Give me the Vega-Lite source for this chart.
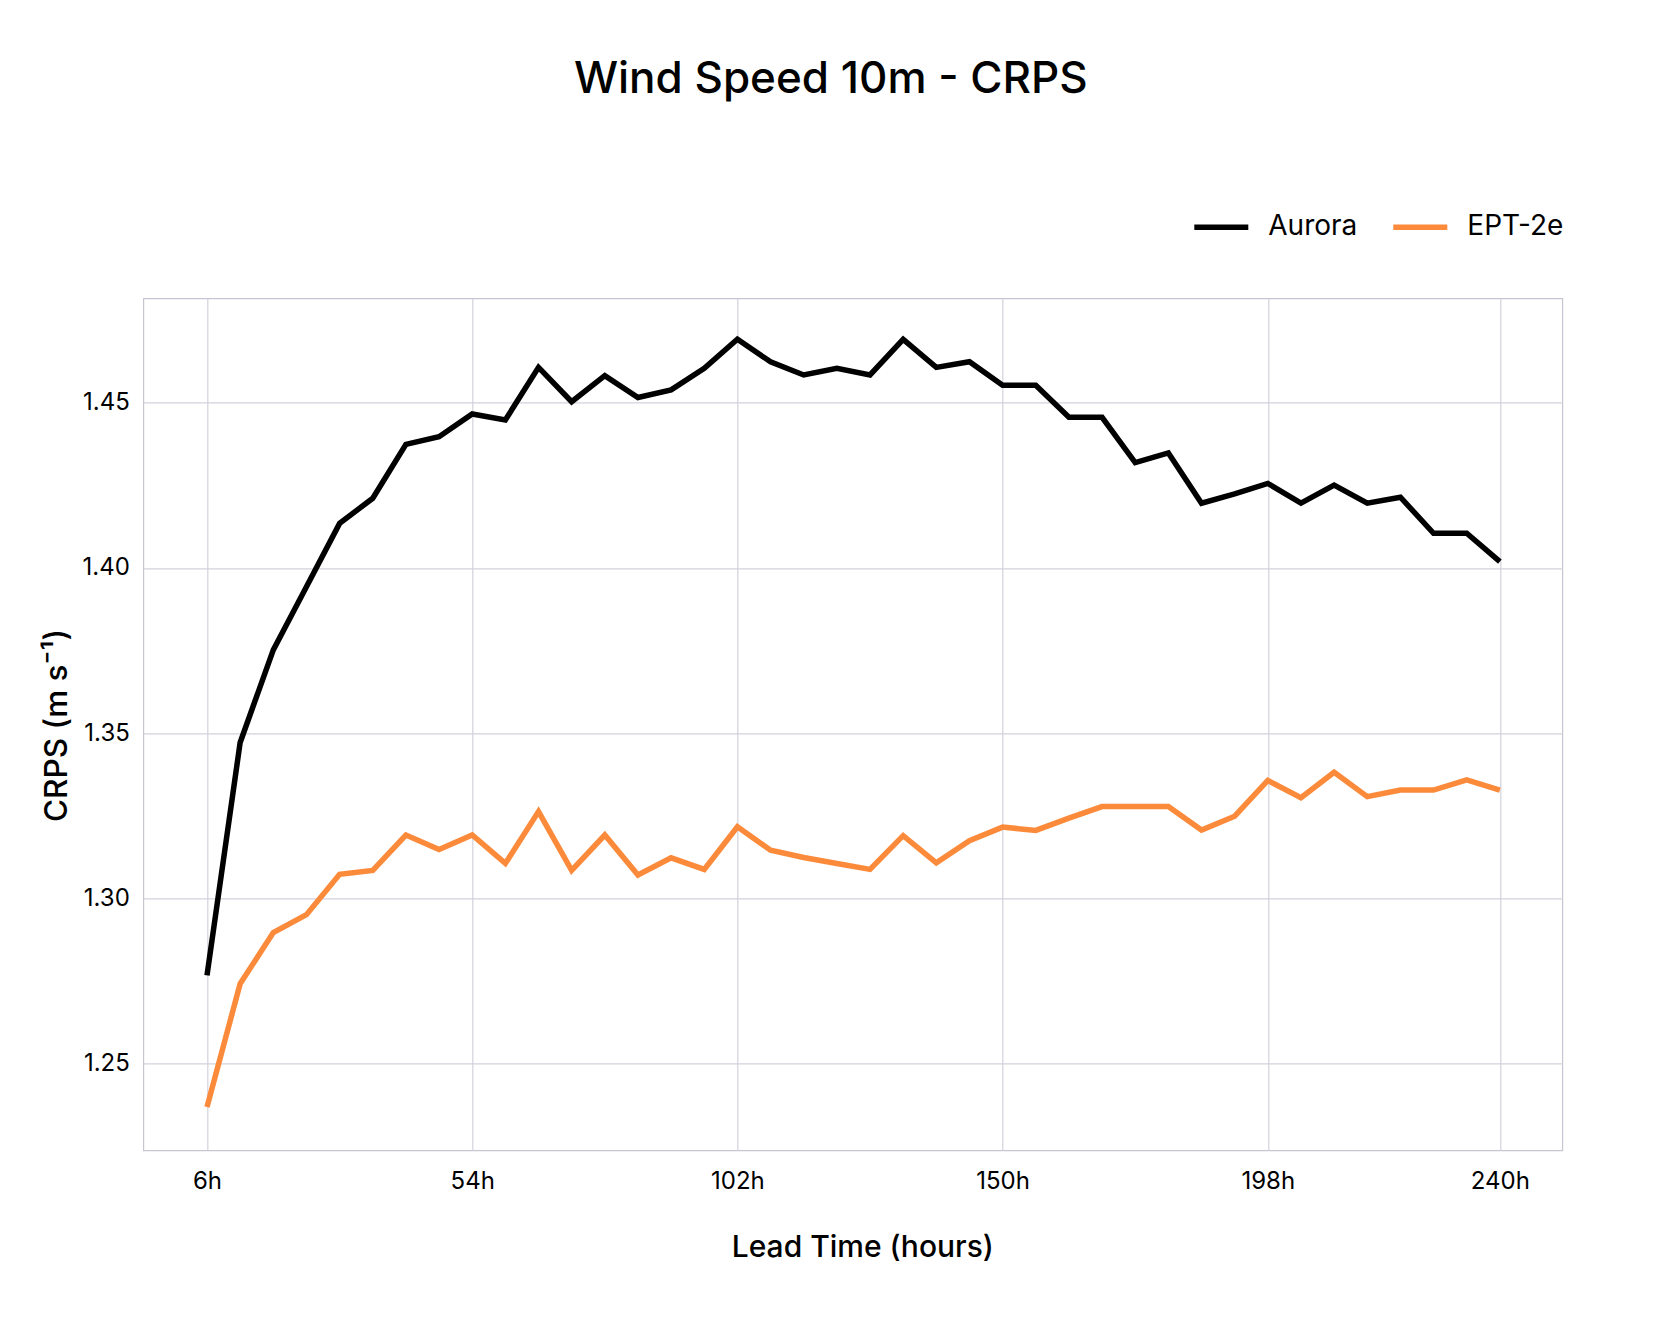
{
  "$schema": "https://vega.github.io/schema/vega-lite/v6.json",
  "autosize": {"type": "none"},
  "width": 1419,
  "height": 852,
  "padding": {"left": 143.3, "top": 298.3, "right": 98.7, "bottom": 178.7},
  "background": "white",
  "config": {
    "font": "Inter",
    "view": {"stroke": "#c6c6d2", "strokeWidth": 1.2}
  },
  "title": {
    "text": "Wind Speed 10m - CRPS",
    "fontSize": 44,
    "fontWeight": 500,
    "color": "#000000",
    "anchor": "middle",
    "baseline": "alphabetic",
    "dx": -22,
    "offset": 60
  },
  "data": {
    "values": [
      {"h": 6, "model": "Aurora", "crps": 1.2767},
      {"h": 12, "model": "Aurora", "crps": 1.3472},
      {"h": 18, "model": "Aurora", "crps": 1.3752},
      {"h": 24, "model": "Aurora", "crps": 1.3943},
      {"h": 30, "model": "Aurora", "crps": 1.4135},
      {"h": 36, "model": "Aurora", "crps": 1.4211},
      {"h": 42, "model": "Aurora", "crps": 1.4374},
      {"h": 48, "model": "Aurora", "crps": 1.4397},
      {"h": 54, "model": "Aurora", "crps": 1.4466},
      {"h": 60, "model": "Aurora", "crps": 1.4448},
      {"h": 66, "model": "Aurora", "crps": 1.4607},
      {"h": 72, "model": "Aurora", "crps": 1.4503},
      {"h": 78, "model": "Aurora", "crps": 1.4582},
      {"h": 84, "model": "Aurora", "crps": 1.4516},
      {"h": 90, "model": "Aurora", "crps": 1.4539},
      {"h": 96, "model": "Aurora", "crps": 1.4604},
      {"h": 102, "model": "Aurora", "crps": 1.4692},
      {"h": 108, "model": "Aurora", "crps": 1.4624},
      {"h": 114, "model": "Aurora", "crps": 1.4584},
      {"h": 120, "model": "Aurora", "crps": 1.4604},
      {"h": 126, "model": "Aurora", "crps": 1.4584},
      {"h": 132, "model": "Aurora", "crps": 1.4692},
      {"h": 138, "model": "Aurora", "crps": 1.4607},
      {"h": 144, "model": "Aurora", "crps": 1.4624},
      {"h": 150, "model": "Aurora", "crps": 1.4553},
      {"h": 156, "model": "Aurora", "crps": 1.4553},
      {"h": 162, "model": "Aurora", "crps": 1.4456},
      {"h": 168, "model": "Aurora", "crps": 1.4456},
      {"h": 174, "model": "Aurora", "crps": 1.4319},
      {"h": 180, "model": "Aurora", "crps": 1.4348},
      {"h": 186, "model": "Aurora", "crps": 1.4196},
      {"h": 192, "model": "Aurora", "crps": 1.4224},
      {"h": 198, "model": "Aurora", "crps": 1.4256},
      {"h": 204, "model": "Aurora", "crps": 1.4196},
      {"h": 210, "model": "Aurora", "crps": 1.4251},
      {"h": 216, "model": "Aurora", "crps": 1.4196},
      {"h": 222, "model": "Aurora", "crps": 1.4214},
      {"h": 228, "model": "Aurora", "crps": 1.4105},
      {"h": 234, "model": "Aurora", "crps": 1.4105},
      {"h": 240, "model": "Aurora", "crps": 1.4019},
      {"h": 6, "model": "EPT-2e", "crps": 1.2369},
      {"h": 12, "model": "EPT-2e", "crps": 1.2742},
      {"h": 18, "model": "EPT-2e", "crps": 1.2897},
      {"h": 24, "model": "EPT-2e", "crps": 1.2951},
      {"h": 30, "model": "EPT-2e", "crps": 1.3073},
      {"h": 36, "model": "EPT-2e", "crps": 1.3085},
      {"h": 42, "model": "EPT-2e", "crps": 1.3192},
      {"h": 48, "model": "EPT-2e", "crps": 1.3148},
      {"h": 54, "model": "EPT-2e", "crps": 1.3192},
      {"h": 60, "model": "EPT-2e", "crps": 1.3106},
      {"h": 66, "model": "EPT-2e", "crps": 1.3263},
      {"h": 72, "model": "EPT-2e", "crps": 1.3085},
      {"h": 78, "model": "EPT-2e", "crps": 1.3192},
      {"h": 84, "model": "EPT-2e", "crps": 1.3071},
      {"h": 90, "model": "EPT-2e", "crps": 1.3123},
      {"h": 96, "model": "EPT-2e", "crps": 1.3088},
      {"h": 102, "model": "EPT-2e", "crps": 1.3217},
      {"h": 108, "model": "EPT-2e", "crps": 1.3146},
      {"h": 114, "model": "EPT-2e", "crps": 1.3124},
      {"h": 120, "model": "EPT-2e", "crps": 1.3106},
      {"h": 126, "model": "EPT-2e", "crps": 1.3088},
      {"h": 132, "model": "EPT-2e", "crps": 1.3190},
      {"h": 138, "model": "EPT-2e", "crps": 1.3108},
      {"h": 144, "model": "EPT-2e", "crps": 1.3175},
      {"h": 150, "model": "EPT-2e", "crps": 1.3216},
      {"h": 156, "model": "EPT-2e", "crps": 1.3206},
      {"h": 162, "model": "EPT-2e", "crps": 1.3243},
      {"h": 168, "model": "EPT-2e", "crps": 1.3278},
      {"h": 174, "model": "EPT-2e", "crps": 1.3278},
      {"h": 180, "model": "EPT-2e", "crps": 1.3278},
      {"h": 186, "model": "EPT-2e", "crps": 1.3207},
      {"h": 192, "model": "EPT-2e", "crps": 1.3249},
      {"h": 198, "model": "EPT-2e", "crps": 1.3357},
      {"h": 204, "model": "EPT-2e", "crps": 1.3305},
      {"h": 210, "model": "EPT-2e", "crps": 1.3382},
      {"h": 216, "model": "EPT-2e", "crps": 1.3308},
      {"h": 222, "model": "EPT-2e", "crps": 1.3328},
      {"h": 228, "model": "EPT-2e", "crps": 1.3328},
      {"h": 234, "model": "EPT-2e", "crps": 1.3359},
      {"h": 240, "model": "EPT-2e", "crps": 1.3328}
    ]
  },
  "mark": {"type": "line", "strokeWidth": 5.5, "strokeJoin": "miter", "strokeCap": "butt"},
  "encoding": {
    "x": {
      "field": "h",
      "type": "quantitative",
      "scale": {"domain": [-5.53, 251.3], "nice": false, "zero": false},
      "axis": {
        "values": [6, 54, 102, 150, 198, 240],
        "labelExpr": "datum.value + 'h'",
        "title": "Lead Time (hours)",
        "titleFontSize": 30,
        "titleFontWeight": 500,
        "titleColor": "#000000",
        "titleBaseline": "alphabetic",
        "titleX": 719,
        "titleY": 106.4,
        "labelFontSize": 24,
        "labelColor": "#000000",
        "labelPadding": 19,
        "ticks": false,
        "domain": false,
        "grid": true,
        "gridColor": "#d2d2dc",
        "gridWidth": 1.2,
        "labelFlush": false
      }
    },
    "y": {
      "field": "crps",
      "type": "quantitative",
      "scale": {"domain": [1.2238, 1.4816], "nice": false, "zero": false},
      "axis": {
        "values": [1.25, 1.3, 1.35, 1.4, 1.45],
        "format": ".2f",
        "title": "CRPS (m s⁻¹)",
        "titleFontSize": 31.5,
        "titleFontWeight": 500,
        "titleColor": "#000000",
        "titleBaseline": "alphabetic",
        "titleAlign": "center",
        "titleAngle": 270,
        "titleX": -76.6,
        "titleY": 426.7,
        "labelFontSize": 24,
        "labelColor": "#000000",
        "labelPadding": 14,
        "ticks": false,
        "domain": false,
        "grid": true,
        "gridColor": "#d2d2dc",
        "gridWidth": 1.2,
        "labelFlush": false
      }
    },
    "color": {
      "field": "model",
      "type": "nominal",
      "scale": {"domain": ["Aurora", "EPT-2e"], "range": ["#000000", "#fb8a3b"]},
      "legend": {
        "title": null,
        "orient": "none",
        "direction": "horizontal",
        "legendX": 1048,
        "legendY": -101,
        "symbolType": "stroke",
        "symbolSize": 2916,
        "symbolStrokeWidth": 5.5,
        "labelFontSize": 28,
        "labelColor": "#000000",
        "labelOffset": 17,
        "columnPadding": 24,
        "padding": 0
      }
    }
  }
}
